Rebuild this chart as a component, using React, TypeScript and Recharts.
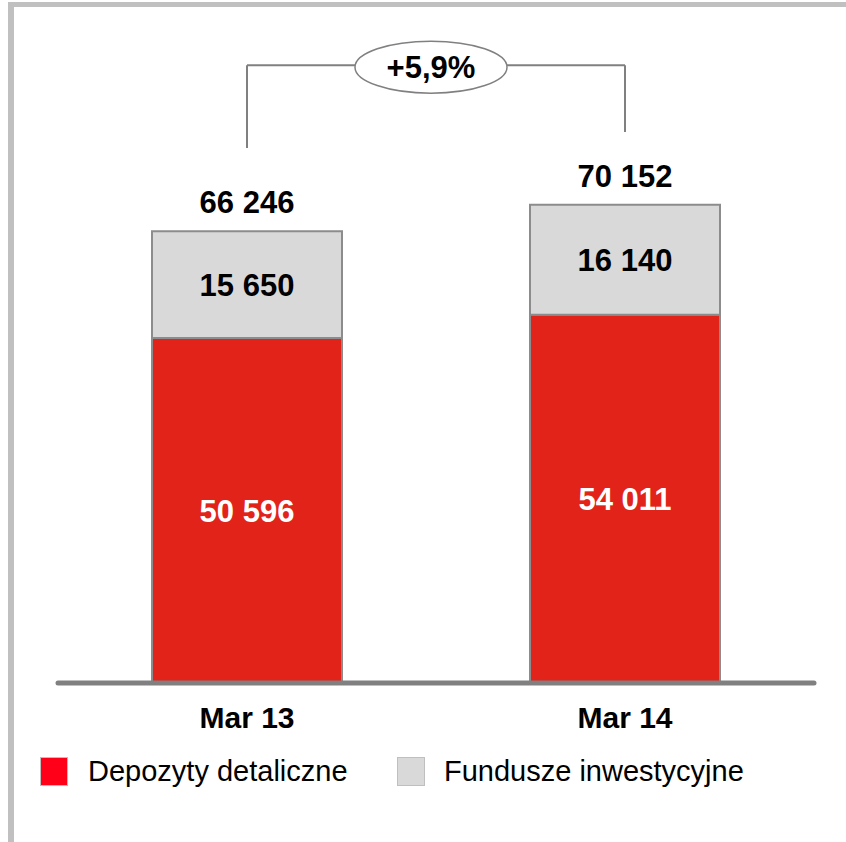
import React from 'react';
import { BarChart, Bar, XAxis, YAxis, LabelList, ReferenceLine } from 'recharts';

const categories = ['Mar 13', 'Mar 14'];
const depozyty = [50596, 54011];
const fundusze = [15650, 16140];
const totals = [66246, 70152];
const seriesNames = ['Depozyty detaliczne', 'Fundusze inwestycyjne'];
const seriesColors = ['#e2231a', '#d9d9d9'];
const legendColors = ['#ff0018', '#d9d9d9'];
const growthLabel = '+5,9%';
const bracketLevel = 90600;
const bracketEnds = [78450, 80800];

const data = categories.map((c, i) => ({ cat: c, dep: depozyty[i], fun: fundusze[i], total: totals[i] }));

const FONT = 'Liberation Sans, Arial, Helvetica, sans-serif';
const fmt = (v: number) => String(v).replace(/\B(?=(\d{3})+(?!\d))/g, ' ');

const makeCenterLabel = (color: string) => (props: any) => {
  const { x, y, width, height, value } = props;
  return (
    <text x={x + width / 2} y={y + height / 2} dy="0.36em" textAnchor="middle" fill={color}
      fontFamily={FONT} fontWeight="bold" fontSize={31}>{fmt(value)}</text>
  );
};

const TotalLabel = (props: any) => {
  const { x, y, width, value } = props;
  return (
    <text x={x + width / 2} y={y - 18} textAnchor="middle" fill="#000"
      fontFamily={FONT} fontWeight="bold" fontSize={31}>{fmt(value)}</text>
  );
};

const CatTick = (props: any) => {
  const { x, y, payload } = props;
  return (
    <text x={x} y={y + 45} textAnchor="middle" fill="#000" fontFamily={FONT} fontWeight="bold" fontSize={30}>
      {payload.value}
    </text>
  );
};

const GrowthBubble = (props: any) => {
  const vb = props.viewBox || {};
  const cx = vb.x + (vb.width || 0) / 2 - 5;
  const cy = vb.y + 2;
  return (
    <g>
      <ellipse cx={cx} cy={cy} rx={76} ry={26} fill="#fff" stroke="#808080" strokeWidth={1.5} />
      <text x={cx} y={cy} dy="0.36em" textAnchor="middle" fill="#000" fontFamily={FONT} fontWeight="bold" fontSize={31}>
        {growthLabel}
      </text>
    </g>
  );
};

export default function App() {
  return (
    <div style={{ position: 'absolute', left: 0, top: 0, width: 846, height: 842, background: '#fff', overflow: 'hidden' }}>
      <div style={{ position: 'absolute', left: 8, top: 2, width: 900, height: 836, borderLeft: '6px solid #c0c0c0', borderTop: '5px solid #c0c0c0', borderBottom: '2px solid #e4e4e4', boxSizing: 'content-box' }} />
      <div style={{ position: 'absolute', left: 0, top: 0 }}>
        <BarChart width={846} height={842} data={data} margin={{ top: 1.1, right: 32, bottom: 99, left: 58 }}>
          <YAxis hide domain={[0, 100000]} type="number" allowDataOverflow />
          <XAxis dataKey="cat" height={60} tickLine={false} tickSize={0} tickMargin={0}
            axisLine={{ stroke: '#808080', strokeWidth: 5, strokeLinecap: 'round' }} tick={<CatTick />} />
          <Bar dataKey="dep" stackId="a" fill={seriesColors[0]} stroke="#8c8c8c" strokeWidth={2} barSize={190} isAnimationActive={false}>
            <LabelList dataKey="dep" content={makeCenterLabel('#fff')} />
          </Bar>
          <Bar dataKey="fun" stackId="a" fill={seriesColors[1]} stroke="#8c8c8c" strokeWidth={2} barSize={190} isAnimationActive={false}>
            <LabelList dataKey="fun" content={makeCenterLabel('#000')} />
            <LabelList dataKey="total" content={<TotalLabel />} />
          </Bar>
          <ReferenceLine ifOverflow="visible" stroke="#808080" strokeWidth={2}
            segment={[{ x: categories[0], y: bracketEnds[0] }, { x: categories[0], y: bracketLevel }]} />
          <ReferenceLine ifOverflow="visible" stroke="#808080" strokeWidth={2}
            segment={[{ x: categories[1], y: bracketEnds[1] }, { x: categories[1], y: bracketLevel }]} />
          <ReferenceLine ifOverflow="visible" stroke="#808080" strokeWidth={2}
            segment={[{ x: categories[0], y: bracketLevel }, { x: categories[1], y: bracketLevel }]}
            label={<GrowthBubble />} />
        </BarChart>
      </div>
      <div style={{ position: 'absolute', left: 40, top: 757, width: 28, height: 29, background: legendColors[0], boxSizing: 'border-box', border: '1.5px solid #bfbfbf' }} />
      <div style={{ position: 'absolute', left: 88, top: 754, fontFamily: FONT, fontSize: 29, lineHeight: '35px', color: '#000', whiteSpace: 'nowrap' }}>{seriesNames[0]}</div>
      <div style={{ position: 'absolute', left: 397, top: 757, width: 28, height: 29, background: legendColors[1], boxSizing: 'border-box', border: '1.5px solid #bfbfbf' }} />
      <div style={{ position: 'absolute', left: 444, top: 754, fontFamily: FONT, fontSize: 29, lineHeight: '35px', color: '#000', whiteSpace: 'nowrap' }}>{seriesNames[1]}</div>
    </div>
  );
}
